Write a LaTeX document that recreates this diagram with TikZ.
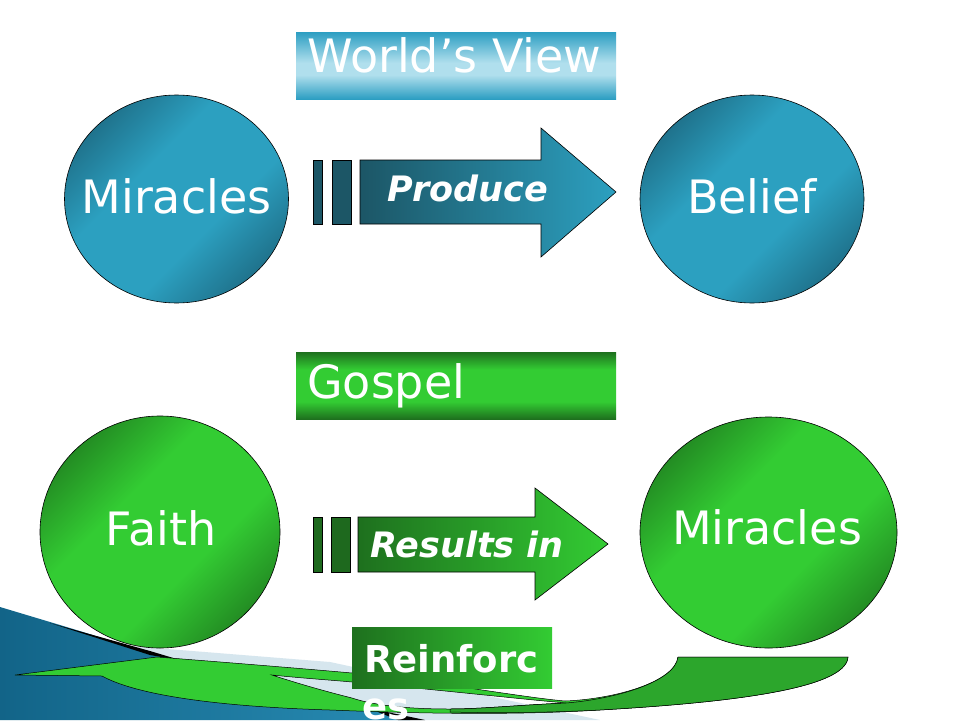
\documentclass[tikz,border=0pt]{standalone}
\usepackage{fontspec}
\setmainfont{DejaVu Sans}
\usetikzlibrary{shapes.geometric}
\definecolor{bdark}{RGB}{27,100,124}
\definecolor{blight}{RGB}{44,160,192}
\definecolor{gdark}{RGB}{30,120,30}
\definecolor{glight}{RGB}{51,204,51}
\definecolor{arrdark}{RGB}{28,86,102}
\definecolor{gbar}{RGB}{30,105,30}
\definecolor{bnlight}{RGB}{176,223,237}
\definecolor{bnedge}{RGB}{44,158,194}
\definecolor{gbdark}{RGB}{30,112,30}
\definecolor{palec}{RGB}{214,230,238}
\definecolor{swdark}{RGB}{18,100,136}
\definecolor{swlight}{RGB}{96,182,218}
\definecolor{swmid}{RGB}{40,140,180}
\definecolor{cresc}{RGB}{44,166,44}
\pgfdeclareverticalshading{bluecirc}{100bp}{color(0bp)=(bdark); color(20bp)=(bdark); color(40bp)=(blight); color(60bp)=(blight); color(80bp)=(bdark); color(100bp)=(bdark)}
\pgfdeclareverticalshading{greencirc}{100bp}{color(0bp)=(gdark); color(20bp)=(gdark); color(40bp)=(glight); color(60bp)=(glight); color(80bp)=(gdark); color(100bp)=(gdark)}
\pgfdeclareverticalshading{bluebanner}{100bp}{color(0bp)=(bnedge); color(25bp)=(bnedge); color(43bp)=(bnlight); color(52bp)=(bnlight); color(75bp)=(bnedge); color(100bp)=(bnedge)}
\pgfdeclareverticalshading{greenbanner}{100bp}{color(0bp)=(gbdark); color(25bp)=(gbdark); color(38bp)=(glight); color(62bp)=(glight); color(75bp)=(gbdark); color(100bp)=(gbdark)}
\tikzset{
  circ/.style={ellipse, draw=black, line width=0.6pt, inner sep=0pt},
  bluec/.style={circ, shading=bluecirc, shading angle=45},
  greenc/.style={circ, shading=greencirc, shading angle=45},
  circtext/.style={text=white, font=\fontsize{46}{50}\selectfont, anchor=base, inner sep=0pt},
  bantext/.style={text=white, font=\fontsize{46}{50}\selectfont, anchor=base west, inner sep=0pt},
  arrtext/.style={text=white, font=\bfseries\itshape\fontsize{35}{40}\selectfont, anchor=base, inner sep=0pt},
  rftext/.style={text=white, font=\bfseries\fontsize{37}{44}\selectfont, anchor=base west, inner sep=0pt},
  outl/.style={draw=black, line width=0.6pt},
}
\begin{document}
\begin{tikzpicture}[x=1pt,y=-1pt]
\useasboundingbox[fill=white] (0,0) rectangle (960,720);

% background swoosh
\fill[palec] (130,646) -- (330,662) -- (600,720) -- (410,720) -- (165,657) -- cycle;
\path[left color=swdark, middle color=swlight, right color=swmid] (0,607) -- (60,625) -- (165,657) -- (410,720) -- (0,720) -- cycle;
\fill[black] (50,623) -- (150,651) -- (180,660) -- (150,655) -- cycle;
\fill[black] (368,708) -- (425,720) -- (398,720) -- cycle;

% top row
\node[bluec, minimum width=224pt, minimum height=208pt] (mir1) at (176.5,199) {};
\node[circtext] (mir1t) at (176.5,213) {Miracles};
\node[bluec, minimum width=224pt, minimum height=208pt] (bel) at (752,199) {};
\node[circtext] (belt) at (752,213) {Belief};

\node[draw=none, shading=bluebanner, minimum width=320pt, minimum height=67pt, inner sep=0pt] (wv) at (456,65.5) {};
\node[bantext] (wvt) at (307,72) {World’s View};

\fill[arrdark, outl] (313,160) rectangle (322,224);
\fill[arrdark, outl] (332,160) rectangle (351,224);
\path[outl, left color=arrdark, right color=blight] (360,160) -- (541,160) -- (541,128) -- (616,192) -- (541,257) -- (541,224) -- (360,224) -- cycle;
\node[arrtext] (prod) at (468,201) {Produce};

% bottom row
\node[greenc, minimum width=240pt, minimum height=232pt] (faith) at (160,532) {};
\node[circtext] (faitht) at (161,545) {Faith};
\node[greenc, minimum width=257pt, minimum height=231pt] (mir2) at (768.5,532.5) {};
\node[circtext] (mir2t) at (767,544) {Miracles};

\node[draw=none, shading=greenbanner, minimum width=320pt, minimum height=67pt, inner sep=0pt] (gv) at (456,385.5) {};
\node[bantext] (gvt) at (307,398) {Gospel};

\fill[gbar, outl] (313,517) rectangle (322,572);
\fill[gbar, outl] (331,517) rectangle (350,572);
\path[outl, left color=gbdark, right color=glight] (358,517) -- (535,517) -- (535,488) -- (608,544) -- (535,600) -- (535,572) -- (358,572) -- cycle;
\node[arrtext] (res) at (467,557) {Results in};

% curved green arrow
\path[fill=glight, draw=black, line width=0.5pt, even odd rule]
  (15,675) -- (157,657) .. controls (260,665) and (330,671) .. (352,673)
  .. controls (440,682) and (520,697) .. (565,701)
  .. controls (615,699) and (675,682) .. (678,657) -- (848,657)
  .. controls (846,690) and (720,703) .. (600,710)
  .. controls (520,715) and (430,714) .. (330,710)
  .. controls (230,707) and (140,697) .. (102,676) -- cycle
  (272,675) .. controls (300,678) and (330,680) .. (352,682)
  .. controls (440,690) and (520,699) .. (566,703)
  .. controls (520,705) and (480,709) .. (450,709)
  .. controls (400,709) and (370,704) .. (352,698)
  .. controls (320,690) and (290,681) .. (272,675) -- cycle;
\path[fill=cresc, draw=black, line width=0.5pt]
  (450,709) .. controls (480,709) and (520,705) .. (566,703)
  .. controls (615,699) and (675,682) .. (678,657) -- (848,657)
  .. controls (846,690) and (720,703) .. (600,710)
  .. controls (540,713) and (490,713) .. (450,712) -- cycle;

\node[draw=none, left color=gbdark, right color=glight, minimum width=200pt, minimum height=61pt, inner sep=0pt] (rf) at (452,657.5) {};
\node[rftext] (rft1) at (364,672) {Reinforc};
\node[rftext] (rft2) at (362,719) {es};
\end{tikzpicture}
\end{document}
